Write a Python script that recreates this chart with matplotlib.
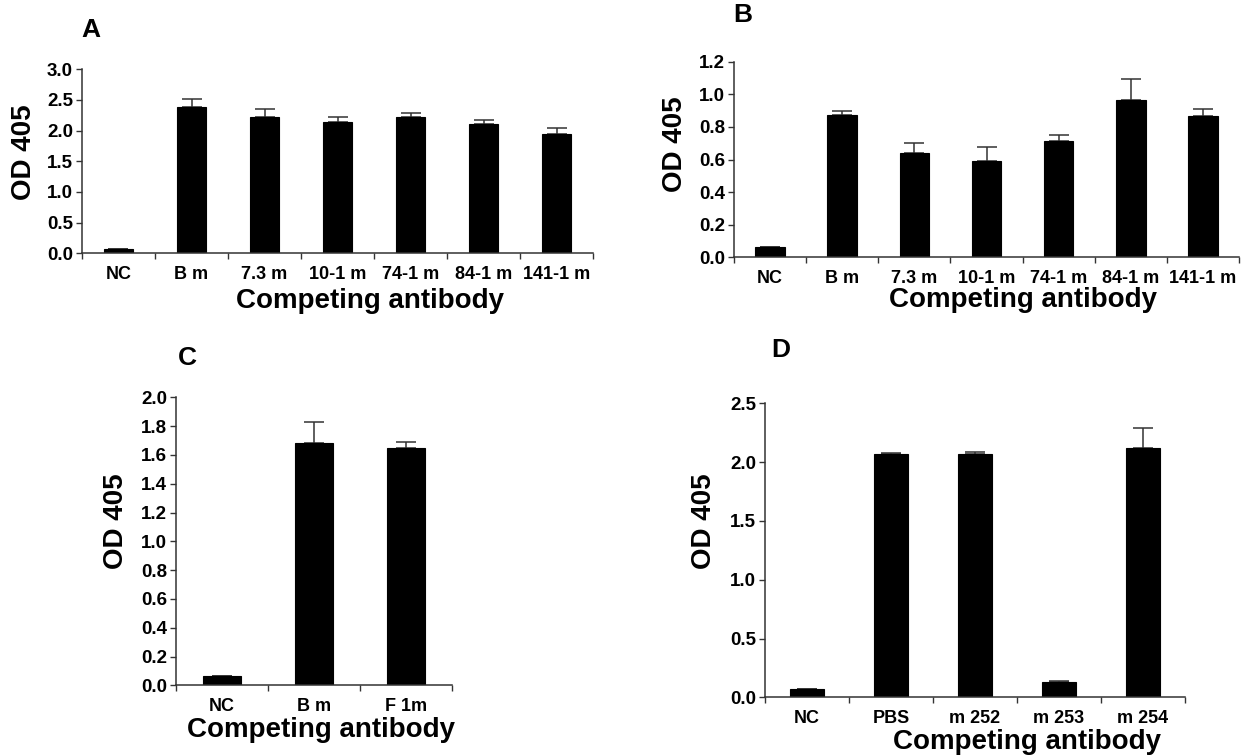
import numpy as np
import matplotlib
matplotlib.use("Agg")
import matplotlib.pyplot as plt

# ---------------- data ----------------
a_labels = ["NC", "B m", "7.3 m", "10-1 m", "74-1 m", "84-1 m", "141-1 m"]
a_values = [0.07, 2.39, 2.23, 2.14, 2.23, 2.10, 1.95]
a_errors = [0.0, 0.13, 0.12, 0.08, 0.06, 0.08, 0.10]
a_yticks = [0.0, 0.5, 1.0, 1.5, 2.0, 2.5, 3.0]

b_labels = ["NC", "B m", "7.3 m", "10-1 m", "74-1 m", "84-1 m", "141-1 m"]
b_values = [0.065, 0.873, 0.638, 0.589, 0.711, 0.963, 0.865]
b_errors = [0.0, 0.022, 0.062, 0.088, 0.037, 0.133, 0.047]
b_yticks = [0.0, 0.2, 0.4, 0.6, 0.8, 1.0, 1.2]

c_labels = ["NC", "B m", "F 1m"]
c_values = [0.065, 1.68, 1.646]
c_errors = [0.0, 0.15, 0.044]
c_yticks = [0.0, 0.2, 0.4, 0.6, 0.8, 1.0, 1.2, 1.4, 1.6, 1.8, 2.0]

d_labels = ["NC", "PBS", "m 252", "m 253", "m 254"]
d_values = [0.074, 2.07, 2.07, 0.13, 2.123]
d_errors = [0.0, 0.008, 0.02, 0.009, 0.17]
d_yticks = [0.0, 0.5, 1.0, 1.5, 2.0, 2.5]

# ---------------- layout ----------------
W, H = 1244, 756
plt.rcParams['font.family'] = ['Liberation Sans', 'DejaVu Sans']
plt.rcParams['font.weight'] = 'bold'
fig = plt.figure(figsize=(W / 100, H / 100), dpi=100)

def px(x, y):
    return x / W, 1 - y / H

def panel(box, labels, values, errors, yticks, letter, letter_xy, ylab_xy, xlab_xy):
    left, right, top, bottom = box
    ax = fig.add_axes([left / W, 1 - bottom / H, (right - left) / W, (bottom - top) / H])
    n = len(labels)
    x = np.arange(n)
    ax.bar(x, values, width=0.41, color="black", edgecolor="black", linewidth=0.8, zorder=2)
    ax.errorbar(x, values, yerr=[np.zeros(n), errors], fmt="none", ecolor="#333333",
                elinewidth=1.1, capsize=7, capthick=1.1, zorder=1)
    ax.set_xlim(-0.5, n - 0.5)
    ax.set_ylim(yticks[0], yticks[-1])
    ax.set_yticks(yticks)
    ax.set_yticklabels([f"{t:.1f}" for t in yticks], fontsize=13.5, fontweight="bold")
    ax.set_xticks(x)
    ax.set_xticklabels(labels, fontsize=13, fontweight="bold")
    ax.set_xticks(np.arange(n + 1) - 0.5, minor=True)
    ax.tick_params(axis="x", which="major", length=0, pad=9)
    ax.tick_params(axis="x", which="minor", length=4.5, width=1, color="#333333")
    ax.tick_params(axis="y", length=4.5, width=1, color="#333333", pad=2)
    for s in ("top", "right"):
        ax.spines[s].set_visible(False)
    for s in ("left", "bottom"):
        ax.spines[s].set_color("#333333")
        ax.spines[s].set_linewidth(1.1)
    fig.text(*px(*letter_xy), letter, fontsize=19, fontweight="bold", ha="center", va="center")
    fig.text(*px(*ylab_xy), "OD 405", fontsize=20, fontweight="bold", rotation=90,
             ha="center", va="center")
    fig.text(*px(*xlab_xy), "Competing antibody", fontsize=20, fontweight="bold",
             ha="center", va="center")
    return ax

panel((82, 593, 69.3, 253.3), a_labels, a_values, a_errors, a_yticks,
      "A", (91, 30), (24.5, 152), (370, 301))
panel((734, 1239, 61.7, 257.3), b_labels, b_values, b_errors, b_yticks,
      "B", (743, 15), (675, 144), (1023, 300))
panel((176, 452, 397.3, 685.3), c_labels, c_values, c_errors, c_yticks,
      "C", (187, 358), (116, 521), (321, 730))
panel((765, 1185, 403.3, 697.3), d_labels, d_values, d_errors, d_yticks,
      "D", (781, 350), (704, 521), (1027, 742))

fig.savefig("out.png", dpi=100, facecolor="white")
